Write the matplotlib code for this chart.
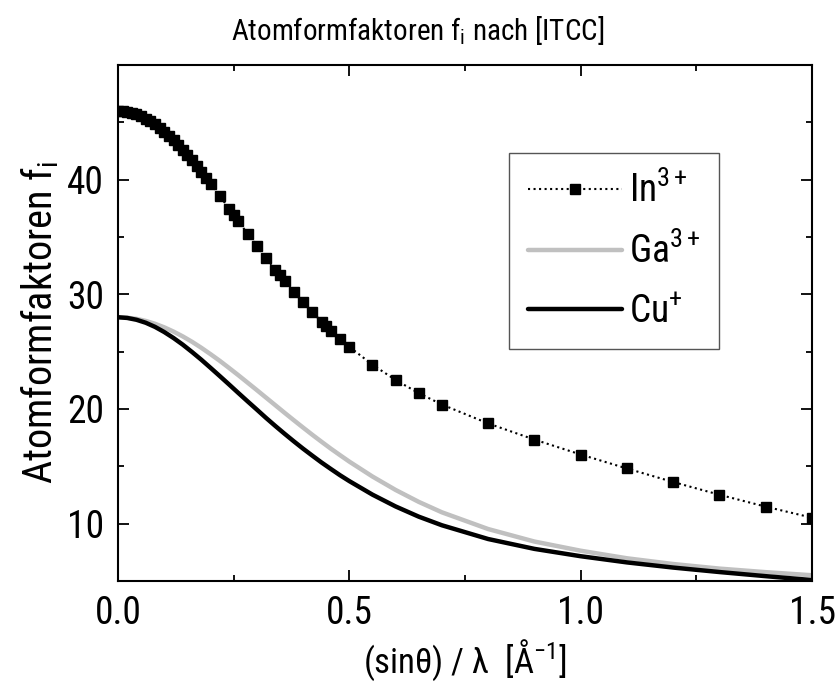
import numpy as np
import matplotlib
matplotlib.use('Agg')
import matplotlib.pyplot as plt
from matplotlib.ticker import MultipleLocator, FormatStrFormatter

plt.rcParams['font.family'] = ['Roboto Condensed', 'DejaVu Sans']
plt.rcParams['mathtext.fontset'] = 'custom'
plt.rcParams['mathtext.rm'] = 'Roboto Condensed'
plt.rcParams['mathtext.it'] = 'Roboto Condensed'

# sin(theta)/lambda grid of the ITC table (In3+ markers)
s_in = [0.00, 0.01, 0.02, 0.03, 0.04, 0.05, 0.06, 0.07, 0.08, 0.09,
        0.10, 0.11, 0.12, 0.13, 0.14, 0.15, 0.16, 0.17, 0.18, 0.19,
        0.20, 0.22, 0.24, 0.25, 0.26, 0.28, 0.30, 0.32, 0.34, 0.35,
        0.36, 0.38, 0.40, 0.42, 0.44, 0.45, 0.46, 0.48, 0.50, 0.55,
        0.60, 0.65, 0.70, 0.80, 0.90, 1.00, 1.10, 1.20, 1.30, 1.40, 1.50]
f_in = [46.00, 45.98, 45.92, 45.83, 45.70, 45.53, 45.33, 45.09, 44.82, 44.51,
        44.18, 43.82, 43.43, 43.02, 42.59, 42.14, 41.67, 41.18, 40.68, 40.16,
        39.64, 38.57, 37.48, 36.93, 36.38, 35.29, 34.22, 33.17, 32.15, 31.65,
        31.16, 30.21, 29.31, 28.44, 27.62, 27.23, 26.84, 26.11, 25.42, 23.86,
        22.53, 21.38, 20.39, 18.74, 17.33, 16.03, 14.81, 13.63, 12.52, 11.48, 10.52]

# grid for the two solid curves
s_line = [0.00, 0.02, 0.04, 0.06, 0.08, 0.10, 0.12, 0.14, 0.16, 0.18,
          0.20, 0.22, 0.24, 0.26, 0.28, 0.30, 0.32, 0.34, 0.36, 0.38,
          0.40, 0.42, 0.44, 0.46, 0.48, 0.50, 0.55, 0.60, 0.65, 0.70,
          0.80, 0.90, 1.00, 1.10, 1.20, 1.30, 1.40, 1.50]
f_ga = [28.00, 27.96, 27.86, 27.68, 27.43, 27.12, 26.75, 26.33, 25.86, 25.34,
        24.78, 24.20, 23.58, 22.95, 22.30, 21.65, 20.99, 20.33, 19.67, 19.02,
        18.38, 17.75, 17.14, 16.54, 15.97, 15.41, 14.11, 12.94, 11.90, 10.99,
        9.53, 8.44, 7.64, 6.98, 6.48, 6.08, 5.77, 5.50]
f_cu = [28.00, 27.94, 27.78, 27.52, 27.16, 26.71, 26.19, 25.61, 24.97, 24.30,
        23.59, 22.87, 22.14, 21.40, 20.67, 19.95, 19.22, 18.52, 17.84, 17.18,
        16.54, 15.93, 15.33, 14.77, 14.22, 13.71, 12.53, 11.50, 10.61, 9.86,
        8.66, 7.80, 7.16, 6.62, 6.17, 5.78, 5.42, 5.08]

fig = plt.figure(figsize=(8.35, 6.84), dpi=100)
ax = fig.add_axes([0.1413, 0.1506, 0.8312, 0.7544])

ax.plot(s_in, f_in, ls=':', color='black', lw=1.5, marker='s', ms=7.5,
        mfc='black', mec='black', label='In$^{3+}$')
ax.plot(s_line, f_ga, color='#c0c0c0', lw=3.2, solid_capstyle='round', label='Ga$^{3+}$')
ax.plot(s_line, f_cu, color='black', lw=3.2, solid_capstyle='round', label='Cu$^{+}$')

ax.set_xlim(0, 1.5)
ax.set_ylim(5, 50)
ax.set_xticks([0.0, 0.5, 1.0, 1.5])
ax.xaxis.set_minor_locator(MultipleLocator(0.25))
ax.xaxis.set_major_formatter(FormatStrFormatter('%.1f'))
ax.set_yticks([10, 20, 30, 40])
ax.yaxis.set_minor_locator(MultipleLocator(5))
ax.tick_params(which='both', direction='in', top=True, right=True, width=1.3)
ax.tick_params(which='major', length=8, labelsize=27, pad=10)
ax.tick_params(which='minor', length=4)
for sp in ax.spines.values():
    sp.set_linewidth(1.5)

fig.text(0.5, 0.955, 'Atomformfaktoren f$_{\\mathrm{i}}$ nach [ITCC]', fontsize=21,
         ha='center', va='center')
ax.set_ylabel('Atomformfaktoren f$_{\\mathrm{i}}$', fontsize=29, labelpad=4)
ax.set_xlabel('(sin\u03b8) / \u03bb  [\u00c5$^{-1}$]', fontsize=25, labelpad=4)

leg = ax.legend(loc='upper right', bbox_to_anchor=(0.866, 0.829), fontsize=27,
                frameon=True, fancybox=False, edgecolor='#555555', framealpha=1,
                handlelength=2.5, handletextpad=0.2, borderpad=0.5, labelspacing=0.6,
                borderaxespad=0)
leg.get_frame().set_linewidth(1.0)

fig.savefig('out.png', dpi=100)
